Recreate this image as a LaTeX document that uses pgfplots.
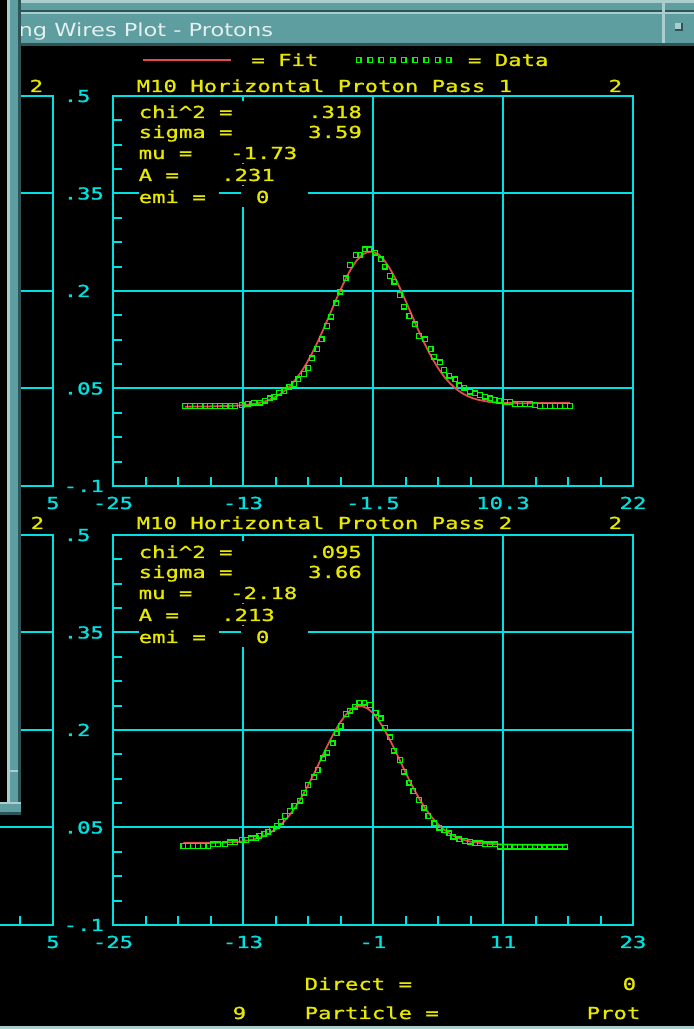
\documentclass[border=0pt]{standalone}
\usepackage{pgfplots}
\pgfplotsset{compat=1.18}
\usepackage{fontspec}
\newfontfamily\monofont[FakeStretch=1.35,FakeBold=1.2]{DejaVu Sans Mono}
\newfontfamily\titlefont[FakeStretch=1.25]{DejaVu Sans}
\newcommand\mf{\monofont\fontsize{16.5bp}{20bp}\selectfont}
\newlength\cw \setlength\cw{13.41bp}
\definecolor{cyan0}{RGB}{0,225,225}
\definecolor{yel}{RGB}{232,232,0}
\definecolor{red0}{RGB}{225,75,75}
\definecolor{green0}{RGB}{0,250,0}
\definecolor{teal0}{RGB}{95,158,160}
\definecolor{teall}{RGB}{170,205,205}
\definecolor{teald}{RGB}{45,85,88}
\definecolor{titletext}{RGB}{228,240,240}
\pgfplotsset{
  panel/.style={
    scale only axis, width=520bp, height=390bp, anchor=south west,
    axis line style={cyan0, line width=2bp},
    grid=major, grid style={cyan0, line width=2bp}, major grid style={cyan0, line width=2bp},
    tick style={cyan0, line width=2bp},
    major tick length=0pt, minor tick length=9bp,
    tick align=inside, tick pos=left,
    minor x tick num=3, minor y tick num=3,
    ymin=-0.1, ymax=0.5, ytick={-0.1,0.05,0.2,0.35,0.5},
    ticklabel style={font=\mf, text=cyan0, inner sep=0pt, text height=12bp, text depth=0bp},
    yticklabel style={anchor=west, xshift=-49.5bp},
    xticklabel style={anchor=center, yshift=-17bp},
  },
  dat/.style={only marks, mark=square, mark size=2.3bp, mark options={draw=green0, line width=1.5bp}},
  fit/.style={no marks, draw=red0, line width=1.8bp},
}
\newcommand\tb[4]{\node[bx] at (#1,#2) {\makebox[#3\cw][l]{#4}};}
\begin{document}
\begin{tikzpicture}
\fill[black] (0,0) rectangle (694bp,1029bp);
% ---------- left (partly hidden) panels ----------
\begin{axis}[panel, at={(-467bp,543bp)}, xmin=-115, xmax=5,
  xtick={-115,-85,-55,-25,5}, xticklabels={,,,,5}, yticklabels={,,,,}]
\end{axis}
\begin{axis}[panel, at={(-467bp,104bp)}, xmin=-115, xmax=5,
  xtick={-115,-85,-55,-25,5}, xticklabels={,,,,5}, yticklabels={,,,,}]
\end{axis}
% ---------- Pass 1 ----------
\begin{axis}[panel, at={(113bp,543bp)}, xmin=-25, xmax=22,
  xtick={-25,-13.25,-1.5,10.25,22}, xticklabels={-25,-13,-1.5,10.3,22},
  yticklabels={-.1,.05,.2,.35,.5},
  legend columns=2,
  legend style={at={(0.05577,1.0923)}, anchor=west, draw=none, fill=none,
    inner sep=0pt, outer sep=0pt,
    nodes={inner sep=0pt, text=yel, font=\mf, text height=12bp, text depth=0bp, anchor=west},
    /tikz/column 1/.style={column sep=19.5bp},
    /tikz/column 2/.style={column sep=37.5bp},
    /tikz/column 3/.style={column sep=16bp}}]
\addlegendimage{legend image code/.code={\draw[red0,line width=1.8bp] (0bp,0bp) -- (88bp,0bp);}}
\addlegendimage{legend image code/.code={\foreach \i in {0,...,8}{\draw[green0,line width=1.5bp] ({\i*11.25bp},-2.3bp) rectangle ++(4.6bp,4.6bp);}}}
\addplot[dat, forget plot] coordinates {
(-18.49,0.0231)(-18.04,0.0231)(-17.59,0.0231)(-17.14,0.0231)(-16.68,0.0231)(-16.23,0.0231)
(-15.78,0.0231)(-15.33,0.0231)(-14.88,0.0231)(-14.42,0.0231)(-13.97,0.0231)(-13.37,0.0246)
(-12.83,0.0266)(-12.26,0.0282)(-11.71,0.0282)(-11.26,0.0312)(-10.81,0.0349)(-10.42,0.0374)
(-10.00,0.0435)(-9.52,0.0462)(-9.07,0.0528)(-8.61,0.0569)(-8.25,0.0642)(-7.74,0.0723)
(-7.35,0.0815)(-7.01,0.0965)(-6.53,0.1108)(-6.14,0.1257)(-5.66,0.1462)(-5.30,0.1605)
(-4.82,0.1811)(-4.46,0.1989)(-3.97,0.2195)(-3.58,0.2400)(-3.06,0.2554)(-2.68,0.2554)
(-2.22,0.2642)(-1.83,0.2642)(-1.32,0.2589)(-0.80,0.2488)(-0.44,0.2374)(0.04,0.2231)
(0.43,0.2143)(0.91,0.1938)(1.30,0.1758)(1.78,0.1615)(2.30,0.1488)(2.66,0.1308)
(3.20,0.1257)(3.72,0.1108)(4.01,0.0989)(4.56,0.0903)(4.92,0.0785)(5.40,0.0697)
(5.94,0.0642)(6.30,0.0549)(6.75,0.0512)(7.27,0.0451)(7.72,0.0426)(8.17,0.0400)
(8.62,0.0374)(9.08,0.0349)(9.53,0.0323)(9.92,0.0312)(10.43,0.0297)(10.88,0.0292)
(11.33,0.0262)(11.79,0.0262)(12.24,0.0262)(12.69,0.0262)(13.14,0.0246)(13.59,0.0231)
(14.05,0.0231)(14.50,0.0231)(14.95,0.0231)(15.40,0.0231)(15.85,0.0231)(16.31,0.0231)};
\addplot[fit, forget plot] coordinates {
(-18.5,0.0220)(-16,0.0225)(-14,0.0235)(-13,0.0246)(-12,0.0270)(-11.5,0.0290)(-11,0.0317)
(-10.5,0.0353)(-10,0.0401)(-9.5,0.0462)(-9,0.0540)(-8.5,0.0636)(-8,0.0752)(-7.5,0.0888)
(-7,0.1044)(-6.5,0.1217)(-6,0.1405)(-5.5,0.1602)(-5,0.1802)(-4.5,0.1997)(-4,0.2177)
(-3.5,0.2336)(-3,0.2464)(-2.5,0.2554)(-2,0.2601)(-1.5,0.2604)(-1,0.2562)(-0.5,0.2476)
(0,0.2353)(0.5,0.2199)(1,0.2021)(1.5,0.1829)(2,0.1631)(2.5,0.1435)(3,0.1248)(3.5,0.1075)
(4,0.0919)(4.5,0.0784)(5,0.0667)(5.5,0.0572)(6,0.0494)(6.5,0.0434)(7,0.0387)(7.5,0.0352)
(8,0.0326)(9,0.0294)(10,0.0280)(11,0.0275)(12,0.0274)(14,0.0276)(16.3,0.0280)};
\legend{= Fit,= Data}
\end{axis}
% ---------- Pass 2 ----------
\begin{axis}[panel, at={(113bp,104bp)}, xmin=-25, xmax=23,
  xtick={-25,-13,-1,11,23}, xticklabels={-25,-13,-1,11,23},
  yticklabels={-.1,.05,.2,.35,.5}]
\addplot[dat] coordinates {
(-18.51,0.0215)(-18.08,0.0215)(-17.62,0.0215)(-17.15,0.0215)(-16.69,0.0215)(-16.20,0.0215)
(-15.77,0.0242)(-15.31,0.0242)(-14.66,0.0242)(-14.20,0.0272)(-13.74,0.0272)(-13.12,0.0308)
(-12.72,0.0308)(-12.26,0.0334)(-11.80,0.0334)(-11.50,0.0369)(-11.03,0.0400)(-10.66,0.0435)
(-10.35,0.0477)(-9.89,0.0528)(-9.49,0.0589)(-9.12,0.0677)(-8.66,0.0754)(-8.26,0.0831)
(-7.74,0.0912)(-7.37,0.1035)(-7.00,0.1154)(-6.45,0.1272)(-6.10,0.1385)(-5.59,0.1565)
(-5.22,0.1651)(-4.72,0.1795)(-4.35,0.1949)(-3.98,0.2062)(-3.49,0.2246)(-3.12,0.2297)
(-2.66,0.2358)(-2.26,0.2420)(-1.80,0.2420)(-1.28,0.2385)(-0.75,0.2266)(-0.29,0.2180)
(0.11,0.2035)(0.57,0.1888)(0.94,0.1682)(1.49,0.1538)(1.86,0.1358)(2.35,0.1189)
(2.72,0.1062)(3.25,0.0923)(3.74,0.0805)(4.10,0.0677)(4.66,0.0565)(5.12,0.0497)
(5.58,0.0462)(6.04,0.0411)(6.41,0.0358)(6.97,0.0318)(7.49,0.0292)(7.95,0.0282)
(8.42,0.0257)(8.88,0.0257)(9.34,0.0242)(9.80,0.0242)(10.26,0.0242)(10.72,0.0205)
(11.18,0.0205)(11.64,0.0205)(12.11,0.0205)(12.57,0.0205)(13.03,0.0205)(13.49,0.0205)
(13.95,0.0205)(14.41,0.0205)(14.87,0.0205)(15.34,0.0205)(15.80,0.0205)(16.26,0.0205)
(16.72,0.0205)};
\addplot[fit] coordinates {
(-18.5,0.0265)(-16,0.0265)(-14,0.0273)(-13,0.0287)(-12,0.0317)(-11.5,0.0341)(-11,0.0374)
(-10.5,0.0417)(-10,0.0473)(-9.5,0.0543)(-9,0.0630)(-8.5,0.0732)(-8,0.0854)(-7.5,0.0991)
(-7,0.1145)(-6.5,0.1309)(-6,0.1483)(-5.5,0.1657)(-5,0.1828)(-4.5,0.1985)(-4,0.2124)
(-3.5,0.2236)(-3,0.2317)(-2.5,0.2361)(-2,0.2366)(-1.5,0.2332)(-1,0.2261)(-0.5,0.2155)
(0,0.2023)(0.5,0.1867)(1,0.1700)(1.5,0.1524)(2,0.1349)(2.5,0.1180)(3,0.1023)(3.5,0.0879)
(4,0.0753)(4.5,0.0643)(5,0.0552)(5.5,0.0475)(6,0.0415)(6.5,0.0367)(7,0.0331)(7.5,0.0303)
(8,0.0283)(9,0.0258)(10,0.0245)(11,0.0239)(12,0.0236)(14,0.0233)(16.7,0.0230)};
\end{axis}
% ---------- window decorations and texts (pixel coordinates, y down) ----------
\begin{scope}[x=1bp,y=-1bp,yshift=1029bp,
  tx/.style={anchor=west, inner sep=0pt, text height=12bp, text depth=0bp, text=yel, font=\mf},
  bx/.style={tx, fill=black, minimum height=21bp}]
% title bar
\fill[teal0] (21,0) rectangle (694,10);
\fill[teall] (21,0) rectangle (694,2.7);
\fill[teald] (21,10) rectangle (694,12);
\fill[teall] (21,12) rectangle (694,14);
\fill[teal0] (21,14) rectangle (694,43);
\fill[teald] (21,43) rectangle (694,46.5);
\fill[teall] (661.5,0) rectangle (664.5,43);
\fill[teald] (675,23) rectangle (683,31);
\fill[teall] (675,23) rectangle (681,29);
\node[anchor=base west, inner sep=0pt, text=titletext, font={\titlefont\fontsize{18bp}{20bp}\selectfont}] at (18.5,36.5) {ng Wires Plot - Protons};
% left window frame
\fill[black] (0,0) rectangle (21,815);
\fill[teall] (7,0) rectangle (9.5,815);
\fill[teal0] (9.5,0) rectangle (18.3,815);
\fill[teald] (18.3,0) rectangle (21,815);
\fill[teall] (0,802) rectangle (21,804.5);
\fill[teal0] (0,804.5) rectangle (21,812);
\fill[teald] (0,812) rectangle (21,815);
\fill[teall] (10,770) rectangle (18.3,772);
\fill[teall] (0,1026) rectangle (694,1029);
% titles
\node[tx] at (29.5,86) {2};
\node[tx] at (136.5,86) {M10 Horizontal Proton Pass 1};
\node[tx] at (608.5,86) {2};
\node[tx] at (30.5,523) {2};
\node[tx] at (136.5,523) {M10 Horizontal Proton Pass 2};
\node[tx] at (608.5,523) {2};
% stats pass 1
\tb{138.5}{112}{8}{chi\textasciicircum2 =}
\tb{308}{112}{4}{.318}
\tb{138.5}{132}{8}{sigma =}
\tb{308}{132}{4}{3.59}
\tb{138.5}{153}{5}{mu =}
\tb{230}{153}{5}{-1.73}
\tb{138.5}{175}{4}{A =}
\tb{221}{175}{4}{.231}
\tb{138.5}{197}{6}{emi =}
\tb{241}{197}{5}{\hspace{1.1\cw}0}
% stats pass 2
\tb{138.5}{552}{8}{chi\textasciicircum2 =}
\tb{308}{552}{4}{.095}
\tb{138.5}{572}{8}{sigma =}
\tb{308}{572}{4}{3.66}
\tb{138.5}{593}{5}{mu =}
\tb{230}{593}{5}{-2.18}
\tb{138.5}{615}{4}{A =}
\tb{221}{615}{4}{.213}
\tb{138.5}{637}{6}{emi =}
\tb{241}{637}{5}{\hspace{1.1\cw}0}
% bottom
\node[tx] at (304.5,984) {Direct =};
\node[tx] at (622.5,984) {0};
\node[tx] at (232.5,1013) {9};
\node[tx] at (304.5,1013) {Particle =};
\node[tx] at (586.5,1013) {Prot};
\end{scope}
\pgfresetboundingbox
\useasboundingbox (0,0) rectangle (694bp,1029bp);
\end{tikzpicture}
\end{document}
